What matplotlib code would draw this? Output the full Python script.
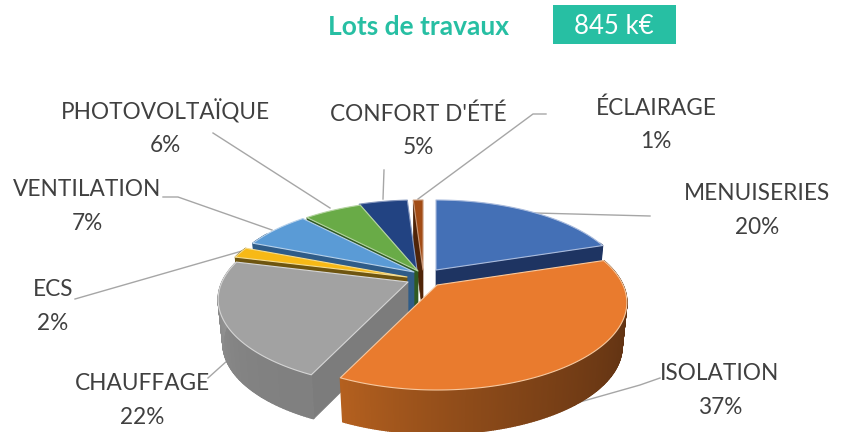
#!/usr/bin/env python
import numpy as np
import matplotlib
matplotlib.use('Agg')
import matplotlib.pyplot as plt
from matplotlib.patches import Polygon, Rectangle

# angles follow the clockwise chart order, draw_order paints back to front
names = ['MENUISERIES', 'ISOLATION', 'CHAUFFAGE', 'ECS', 'VENTILATION',
         'PHOTOVOLTAÏQUE', "CONFORT D'ÉTÉ", 'ÉCLAIRAGE']
shares = [20, 37, 22, 2, 7, 6, 5, 1]
header_title = 'Lots de travaux'
header_total = '845 k€'

top_colors = ['#4470b6', '#e97b2e', '#a2a2a2', '#f7b916', '#5a9bd6', '#69ab47', '#224382', '#a24c15']
face_colors = ['#1e3462', '#5c3012', '#7c7c7c', '#6e5510', '#2f5c88', '#2f5a22', '#101f3f', '#4f2408']
side_from = ['#1e3462', '#5c3012', '#808080', '#6e5510', '#2f5c88', '#2f5a22', '#101f3f', '#4f2408']
side_to = ['#1e3462', '#b4601f', '#9a9a9a', '#6e5510', '#2f5c88', '#2f5a22', '#101f3f', '#4f2408']
edge_colors = ['#a9bbdd', '#f7c9a0', '#d5d5d5', '#f4dc90', '#b5d0ea', '#b4d4a0', '#8496bd', '#c99878']
apex_x = [436, 437, 408, 407, 414, 418, 417, 423]
apex_y = [270, 285, 282, 277, 272, 271, 270, 270]
draw_order = [7, 6, 5, 4, 3, 0, 2, 1]

label_x = [757, 720, 142, 53, 87, 165, 418, 656]
label_y = [194, 374, 383, 289, 189, 111, 114, 108]
line_gap = 34
leaders = [[(535, 213), (650, 216)],
           [(580, 402), (640, 385), (660, 378)],
           [(228, 360), (208, 378)],
           [(242, 251), (75, 299)],
           [(163, 197), (178, 197), (272, 230)],
           [(213, 133), (330, 208)],
           [(384, 170), (383, 199)],
           [(546, 114), (533, 114), (418, 199)]]

RX = 186.
RY = 84.
PERSP = 0.2
DEPTH = 44.
SHRINK = 0.975


def rim(theta):
    # offsets on the top surface, theta in degrees clockwise from 12 o'clock
    t = np.radians(theta)
    f = 1. / (1. + PERSP * np.cos(t))
    return RX * np.sin(t) * f, -RY * np.cos(t) * f


def lower(x0, y0, dx, dy):
    return x0 + dx * SHRINK, y0 + dy + DEPTH


def mix(c1, c2, a):
    c1 = np.array(matplotlib.colors.to_rgb(c1))
    c2 = np.array(matplotlib.colors.to_rgb(c2))
    return tuple(c1 * (1 - a) + c2 * a)


def draw_slice(ax, i, start, stop):
    x0, y0 = apex_x[i], apex_y[i]
    thetas = np.linspace(start, stop, max(int(stop - start) * 2, 4))

    # cut face along the lower edge of the slice
    cut = stop if stop < 180 else start
    dx, dy = rim(cut)
    bx, by = lower(x0, y0, dx, dy)
    ax.add_patch(Polygon([(x0, y0), (x0 + dx, y0 + dy), (bx, by), (x0, y0 + DEPTH)],
                         closed=True, fc=face_colors[i], ec=face_colors[i], lw=0.5))

    # outer wall, only the part that faces us
    for a, b in zip(thetas[:-1], thetas[1:]):
        mid = 0.5 * (a + b)
        if mid < 70 or mid > 300:
            continue
        dx1, dy1 = rim(a)
        dx2, dy2 = rim(b)
        frac = (mid - start) / float(stop - start)
        col = mix(side_from[i], side_to[i], frac ** 2)
        ax.add_patch(Polygon([(x0 + dx1, y0 + dy1), (x0 + dx2, y0 + dy2),
                              lower(x0, y0, dx2, dy2), lower(x0, y0, dx1, dy1)],
                             closed=True, fc=col, ec=col, lw=1.0))

    # top surface
    pts = [(x0, y0)]
    for th in thetas:
        dx, dy = rim(th)
        pts.append((x0 + dx, y0 + dy))
    ax.add_patch(Polygon(pts, closed=True, fc=top_colors[i], ec=edge_colors[i], lw=0.8, joinstyle='round'))


def main():
    plt.rcParams['font.family'] = ['Lato', 'DejaVu Sans']
    fig = plt.figure(figsize=(8.46, 4.32), dpi=100)
    ax = fig.add_axes([0, 0, 1, 1])
    ax.set_xlim(0, 846)
    ax.set_ylim(432, 0)
    ax.axis('off')

    ax.text(419, 27, header_title, color='#27bfa3', fontsize=19, fontweight='bold', ha='center', va='center')
    ax.add_patch(Rectangle((553, 5), 123, 39, fc='#27bfa3', ec='none'))
    ax.text(614, 26, header_total, color='white', fontsize=18.5, ha='center', va='center')

    edges = np.concatenate([[0], np.cumsum(shares)]) * 3.6

    for pts in leaders:
        xs, ys = zip(*pts)
        ax.plot(xs, ys, color='#a6a6a6', lw=1.0, zorder=1)

    for i in draw_order:
        draw_slice(ax, i, edges[i], edges[i + 1])

    for i, name in enumerate(names):
        ax.text(label_x[i], label_y[i], name, color='#404040', fontsize=16.3, ha='center', va='center', zorder=5)
        ax.text(label_x[i], label_y[i] + line_gap, '{}%'.format(shares[i]), color='#404040',
                fontsize=16.3, ha='center', va='center', zorder=5)

    fig.savefig('out.png', dpi=100)


if __name__ == '__main__':
    main()
